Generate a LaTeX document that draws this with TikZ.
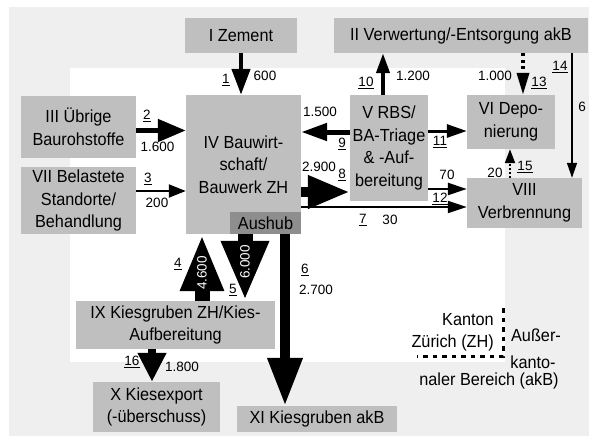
\documentclass[tikz,border=0pt]{standalone}
\usepackage{fontspec}
\setmainfont{Liberation Sans}
\newfontfamily\boxfont{Liberation Sans}[FakeStretch=0.93]
\usetikzlibrary{arrows.meta}
\definecolor{bgout}{HTML}{EFEFEF}
\definecolor{boxgray}{HTML}{BFBFBF}
\definecolor{aushubgray}{HTML}{8E8E8E}
\begin{document}
\begin{tikzpicture}[x=1pt,y=-1pt,
  box/.style={fill=boxgray, inner sep=0pt, align=center, font=\boxfont\fontsize{17.5}{22.5}\selectfont},
  lbl/.style={inner sep=0pt, font=\fontsize{13.5}{15}\selectfont},
  legtxt/.style={inner sep=0pt, align=center, font=\boxfont\fontsize{17.5}{22.5}\selectfont},
  onarrow/.style={inner sep=0pt, text=white, rotate=90, font=\fontsize{13.5}{15}\selectfont},
  flow/.style={draw=black, line cap=butt},
  dotflow/.style={draw=black, dash pattern=on 3pt off 3.5pt},
  border/.style={draw=black, line width=3pt, dash pattern=on 4.5pt off 5pt}
]
\useasboundingbox (0,0) rectangle (589,436);
% backgrounds
\fill[bgout] (9,7) rectangle (589,436);
\fill[white] (70,68) rectangle (505,362);

% boxes
\node[box, minimum width=112pt, minimum height=35pt] (zem) at (241,35.5) {I Zement};
\node[box, minimum width=254pt, minimum height=35pt] (ver) at (461,35.5) {II Verwertung/-Entsorgung akB};
\node[box, minimum width=115pt, minimum height=62pt] (ueb) at (78.5,127) {III Übrige\\Baurohstoffe};
\node[box, minimum width=115pt, minimum height=67pt] (bel) at (78.5,200.5) {VII Belastete\\Standorte/\\Behandlung};
\node[box, minimum width=115pt, minimum height=139pt] (bau) at (243.5,164.5) {IV Bauwirt-\\schaft/\\Bauwerk ZH};
\node[box, fill=aushubgray, minimum width=71pt, minimum height=22pt] (aus) at (265.5,223) {Aushub};
\node[box, minimum width=78pt, minimum height=106pt] (rbs) at (389,148) {V RBS/\\BA-Triage\\\& -Auf-\\bereitung};
\node[box, minimum width=88pt, minimum height=54pt] (dep) at (511,122) {VI Depo-\\nierung};
\node[box, minimum width=115pt, minimum height=50pt] (vbr) at (524.5,203) {VIII\\Verbrennung};
\node[box, minimum width=199pt, minimum height=48pt] (kies) at (175.5,325) {IX Kiesgruben ZH/Kies-\\Aufbereitung};
\node[box, minimum width=127pt, minimum height=50pt] (exp) at (156.5,407) {X Kiesexport\\(-überschuss)};
\node[box, minimum width=160pt, minimum height=26pt] (kak) at (317,419) {XI Kiesgruben akB};

% flows
% 1
\draw[flow, line width=4.5pt, -{Triangle[length=26pt,width=18pt]}] (zem.south) -- (zem.south |- bau.north);
% 2
\draw[flow, line width=5pt, -{Triangle[length=28pt,width=22pt]}] ([yshift=-3.5pt]ueb.east) -- ([yshift=-3.5pt]ueb.east -| bau.west);
% 3
\draw[flow, line width=2pt, -{Triangle[length=17pt,width=13pt]}] ([yshift=9.5pt]bel.east) -- ([yshift=9.5pt]bel.east -| bau.west);
% 9
\draw[flow, line width=5pt, -{Triangle[length=26pt,width=17pt]}] ([yshift=16pt]rbs.west) -- ([yshift=16pt]rbs.west -| bau.east);
% 8
\draw[flow, line width=10pt, -{Triangle[length=42pt,width=31pt]}] ([yshift=-27.5pt]bau.east) -- ([yshift=-27.5pt]bau.east -| rbs.west);
% 7
\draw[flow, line width=2pt, -{Triangle[length=19pt,width=12pt]}] ([yshift=-42.5pt]bau.east) -- ([yshift=-42.5pt]bau.east -| vbr.west);
% 11
\draw[flow, line width=3pt, -{Triangle[length=20pt,width=13pt]}] ([yshift=17pt]rbs.east) -- ([yshift=17pt]rbs.east -| dep.west);
% 12
\draw[flow, line width=2.5pt, -{Triangle[length=19pt,width=12pt]}] ([yshift=-41pt]rbs.east) -- ([yshift=-41pt]rbs.east -| vbr.west);
% 10
\draw[flow, line width=4pt, -{Triangle[length=20pt,width=13pt]}] ([xshift=-6pt]rbs.north) -- ([xshift=-6pt]rbs.north |- ver.south);
% 13
\coordinate (c13) at ([xshift=62pt]ver.south);
\draw[dotflow, line width=3.5pt, -{Triangle[length=22pt,width=12pt]}] (c13) -- (c13 |- dep.north);
% 14
\coordinate (c14) at ([xshift=111pt]ver.south);
\draw[flow, line width=1.5pt, -{Triangle[length=15pt,width=10pt]}] (c14) -- (c14 |- vbr.north);
% 15
\coordinate (c15) at ([xshift=-14.5pt]vbr.north);
\draw[dotflow, line width=2pt, dash pattern=on 2pt off 2pt, -{Triangle[length=14pt,width=10pt]}] (c15) -- (c15 |- dep.south);
% 4
\coordinate (c4) at ([xshift=26.5pt]kies.north);
\draw[flow, line width=15pt, -{Triangle[length=57pt,width=40pt]}] (c4) -- (c4 |- bau.south);
% 5
\coordinate (c5) at ([xshift=-20.5pt]aus.south);
\draw[flow, line width=15pt, -{Triangle[length=60pt,width=44pt]}] (c5) -- (c5 |- kies.north);
% 6
\coordinate (c6) at ([xshift=19.5pt]aus.south);
\draw[flow, line width=10pt, -{Triangle[length=48pt,width=33pt]}] (c6) -- (c6 |- kak.north);
% 16
\coordinate (c16) at ([xshift=-23.5pt]kies.south);
\draw[flow, line width=8pt, -{Triangle[length=29pt,width=27pt]}] (c16) -- (c16 |- exp.north);

% labels
\node[lbl] (l1) at (226,80) {\underline{1}};
\node[lbl] (v1) at (265,76) {600};
\node[lbl] (l2) at (147,116) {\underline{2}};
\node[lbl] (v2) at (157.5,147) {1.600};
\node[lbl] (l3) at (148,179) {\underline{3}};
\node[lbl] (v3) at (157,203) {200};
\node[lbl] (l10) at (366,83) {\underline{10}};
\node[lbl] (v10) at (413,76) {1.200};
\node[lbl] (v13) at (495,76) {1.000};
\node[lbl] (l13) at (539,83) {\underline{13}};
\node[lbl] (l14) at (560,67) {\underline{14}};
\node[lbl] (v14) at (582,107) {6};
\node[lbl] (v9) at (320,112) {1.500};
\node[lbl] (l9) at (342,144) {\underline{9}};
\node[lbl] (l11) at (440,142) {\underline{11}};
\node[lbl] (v8) at (319,167) {2.900};
\node[lbl] (l8) at (342,175) {\underline{8}};
\node[lbl] (v12) at (447,175) {70};
\node[lbl] (l12) at (440,199) {\underline{12}};
\node[lbl] (l7) at (363,220) {\underline{7}};
\node[lbl] (v7) at (390,220) {30};
\node[lbl] (v15) at (495,173) {20};
\node[lbl] (l15) at (525,167) {\underline{15}};
\node[lbl] (l4) at (178,264) {\underline{4}};
\node[onarrow] (v4) at (202,273) {4.600};
\node[lbl] (l5) at (233,290) {\underline{5}};
\node[onarrow] (v5) at (245,262) {6.000};
\node[lbl] (l6) at (305,270) {\underline{6}};
\node[lbl] (v6) at (316,290) {2.700};
\node[lbl] (l16) at (132,362) {\underline{16}};
\node[lbl] (v16) at (182,367) {1.800};

% legend
\draw[border] (503,308) -- (503,356) -- (417,356);
\node[legtxt, anchor=east] (kzh1) at (494,320) {Kanton};
\node[legtxt, anchor=east] (kzh2) at (494,343) {Zürich (ZH)};
\node[legtxt] (akb1) at (536,335) {Außer-};
\node[legtxt] (akb2) at (533,362) {kanto-};
\node[legtxt] (akb3) at (489,381) {naler Bereich (akB)};
\end{tikzpicture}
\end{document}
